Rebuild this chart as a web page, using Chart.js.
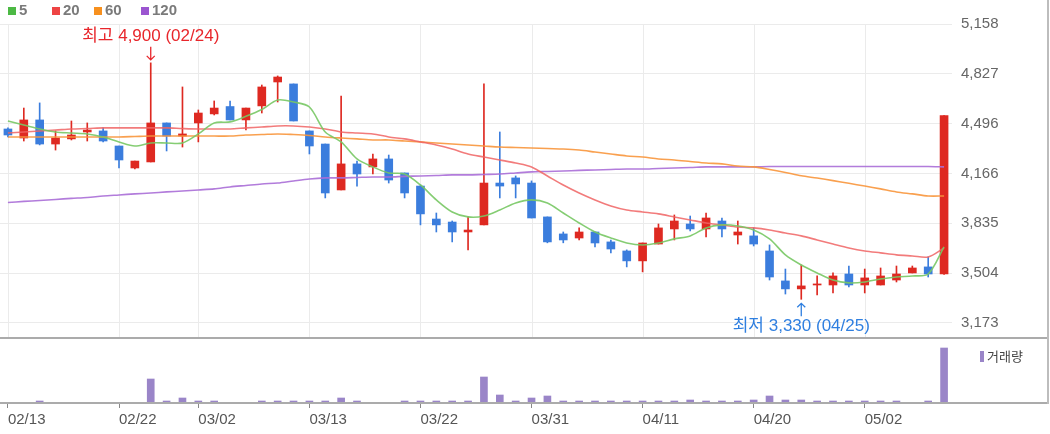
<!DOCTYPE html>
<html>
<head>
<meta charset="utf-8">
<script src="https://cdn.jsdelivr.net/npm/chart.js@4.4.0/dist/chart.umd.min.js"></script>
<style>
  body { margin: 0; background: #fff; }
  #wrap { position: relative; width: 1050px; height: 434px; overflow: hidden; font-family: "Liberation Sans", "Noto Sans CJK KR", sans-serif; }
  #main { position: absolute; left: 0; top: 0; width: 1050px; height: 338px; }
  #vol { position: absolute; left: 0; top: 338px; width: 1050px; height: 96px; }
  .rule { position: absolute; background: #ababab; }
  .lg { position: absolute; top: 2px; font: bold 15px "Liberation Sans", sans-serif; color: #7a7a7a; line-height: 16px; }
  .lg i { display: inline-block; width: 8px; height: 8px; margin-right: 3px; vertical-align: 0px; }
  #volLg { position: absolute; left: 980px; top: 348px; font: 13px "Noto Sans CJK KR", sans-serif; color: #444; line-height: 16px; }
  #volLg i { display: inline-block; width: 4px; height: 11px; background: #9a85c8; margin-right: 3px; vertical-align: -1px; }
</style>
</head>
<body>
<div id="wrap">
  <canvas id="main" width="1050" height="338" style="width:1050px;height:338px"></canvas>
  <canvas id="vol" width="1050" height="96" style="width:1050px;height:96px"></canvas>
  <div class="lg" style="left:8px"><i style="background:#4cb944"></i>5</div>
  <div class="lg" style="left:52px"><i style="background:#ee4444"></i>20</div>
  <div class="lg" style="left:94px"><i style="background:#f7901e"></i>60</div>
  <div class="lg" style="left:141px"><i style="background:#9b55d0"></i>120</div>
  <div id="volLg"><i></i>거래량</div>
  <div class="rule" style="left:0;top:337px;width:1049px;height:2px"></div>
  <div class="rule" style="left:0;top:402px;width:1049px;height:2px"></div>
  <div class="rule" style="left:1047px;top:0;width:2px;height:404px;background:#bdbdbd"></div>
</div>
<script>
// trading days shown on the chart
const dates = ['02/13','02/14','02/15','02/16','02/17','02/20','02/21','02/22','02/23','02/24',
  '02/27','02/28','03/02','03/03','03/06','03/07','03/08','03/09','03/10','03/13',
  '03/14','03/15','03/16','03/17','03/20','03/21','03/22','03/23','03/24','03/27',
  '03/28','03/29','03/30','03/31','04/03','04/04','04/05','04/06','04/07','04/10',
  '04/11','04/12','04/13','04/14','04/17','04/18','04/19','04/20','04/21','04/24',
  '04/25','04/26','04/27','04/28','05/02','05/03','05/04','05/08','05/09','05/10'];
const labelDates = ['02/13','02/22','03/02','03/13','03/22','03/31','04/11','04/20','05/02'];

const opens = [4461,4401,4521,4361,4395,4441,4448,4348,4202,4242,4501,4414,4501,4561,4610,4521,4614,4773,4760,4448,
  4361,4056,4229,4209,4262,4169,4082,3863,3843,3777,3824,4102,4136,4102,3877,3764,3737,3777,3711,3651,
  3585,3697,3797,3830,3797,3850,3757,3751,3651,3452,3399,3425,3425,3498,3425,3425,3458,3505,3545,3498];
const highs = [4468,4600,4634,4448,4514,4501,4468,4348,4248,4900,4501,4740,4587,4647,4647,4600,4753,4813,4760,4448,
  4361,4680,4248,4295,4288,4169,4089,3903,3850,3877,4760,4441,4149,4116,3877,3777,3804,3777,3724,3658,
  3704,3830,3890,3883,3903,3870,3850,3804,3691,3531,3558,3485,3505,3551,3531,3538,3551,3551,3611,4550];
const lows = [4408,4381,4355,4321,4388,4381,4375,4202,4195,4242,4315,4341,4375,4554,4521,4454,4567,4640,4514,4295,
  4003,4056,4082,4162,4102,4003,3824,3777,3711,3658,3824,4003,4003,3870,3705,3705,3724,3678,3638,3545,
  3512,3697,3724,3784,3744,3744,3697,3684,3458,3365,3330,3359,3372,3412,3372,3425,3445,3505,3478,3495];
const closes = [4421,4521,4361,4401,4421,4454,4381,4255,4248,4501,4414,4428,4567,4600,4521,4600,4740,4806,4514,4348,
  4036,4229,4162,4262,4122,4036,3897,3824,3777,3790,4102,4082,4096,3870,3711,3724,3777,3704,3664,3585,
  3704,3804,3850,3797,3870,3797,3777,3697,3478,3399,3419,3432,3485,3425,3472,3485,3498,3538,3498,4550];
const volumes = [3000,3000,20000,3000,3000,3000,3000,3000,3000,240000,20000,50000,20000,20000,5000,5000,20000,20000,20000,20000,
  20000,50000,20000,5000,5000,20000,20000,20000,20000,20000,260000,80000,20000,50000,70000,20000,20000,20000,20000,20000,
  20000,20000,20000,30000,20000,20000,20000,30000,70000,30000,30000,20000,20000,20000,20000,20000,20000,5000,20000,550000];

// moving averages
const ma5 = [4514,4488,4461,4441,4434,4428,4408,4375,4348,4368,4368,4368,4428,4501,4508,4545,4590,4653,4640,4607,
  4441,4375,4262,4209,4169,4162,4089,3990,3910,3877,3883,3923,3970,3990,3970,3903,3837,3777,3737,3704,
  3691,3704,3731,3751,3804,3824,3817,3790,3731,3625,3558,3505,3458,3439,3445,3465,3478,3485,3498,3678];
const ma20 = [4434,4441,4448,4454,4461,4464,4468,4468,4468,4468,4468,4464,4461,4461,4461,4468,4474,4481,4481,4474,
  4461,4441,4434,4428,4408,4395,4375,4355,4328,4295,4275,4255,4235,4209,4149,4089,4036,3990,3950,3923,
  3910,3897,3877,3857,3837,3824,3810,3804,3790,3770,3751,3724,3697,3671,3651,3638,3625,3618,3611,3671];
const ma60 = [4408,4408,4408,4408,4408,4408,4408,4408,4411,4414,4414,4414,4414,4414,4414,4421,4424,4428,4424,4418,
  4408,4401,4395,4388,4388,4381,4375,4368,4361,4355,4348,4341,4338,4335,4331,4328,4321,4308,4295,4282,
  4275,4262,4255,4245,4235,4229,4215,4209,4192,4172,4150,4135,4118,4100,4082,4063,4043,4030,4016,4016];
const ma120 = [3973,3980,3986,3993,4000,4006,4016,4023,4030,4036,4043,4049,4056,4063,4076,4086,4096,4102,4116,4129,
  4136,4136,4139,4142,4142,4146,4149,4152,4156,4156,4159,4162,4169,4176,4179,4182,4186,4189,4192,4195,
  4195,4199,4202,4205,4209,4209,4209,4209,4212,4212,4212,4212,4212,4212,4212,4212,4212,4212,4212,4209];

const yTicks = [5158, 4827, 4496, 4166, 3835, 3504, 3173];

const UP = '#de2921', DOWN = '#3b7ddd';
const candleColors = opens.map((o, i) => closes[i] >= o ? UP : DOWN);
const fmt = v => v.toLocaleString('en-US');
const shown = i => labelDates.includes(dates[i]);

function arrow(ctx, x, from, to) {
  const d = to > from ? 1 : -1;
  ctx.beginPath();
  ctx.moveTo(x, from); ctx.lineTo(x, to);
  ctx.moveTo(x - 4, to - 4 * d); ctx.lineTo(x, to); ctx.lineTo(x + 4, to - 4 * d);
  ctx.stroke();
}

// vertical grid only at the labelled dates
const dateGrid = {
  id: 'dateGrid',
  beforeDatasetsDraw(chart) {
    const { ctx, chartArea: a, scales: { x } } = chart;
    ctx.save();
    ctx.strokeStyle = '#ebebeb';
    ctx.lineWidth = 1;
    dates.forEach((d, i) => {
      if (!shown(i)) return;
      const px = Math.round(x.getPixelForValue(i)) + 0.5;
      ctx.beginPath(); ctx.moveTo(px, a.top); ctx.lineTo(px, a.bottom); ctx.stroke();
    });
    ctx.restore();
  }
};

// high / low call-outs
const markers = {
  id: 'markers',
  afterDatasetsDraw(chart) {
    const { ctx, scales: { x, y } } = chart;
    const hi = highs.indexOf(Math.max(...highs));
    const lo = lows.indexOf(Math.min(...lows));
    ctx.save();
    ctx.font = '17px "Liberation Sans", "Noto Sans CJK KR", sans-serif';
    ctx.textAlign = 'center';
    ctx.textBaseline = 'middle';
    ctx.lineWidth = 1.3;

    let px = x.getPixelForValue(hi), py = y.getPixelForValue(highs[hi]);
    ctx.fillStyle = ctx.strokeStyle = '#e8262b';
    ctx.fillText('최고 ' + fmt(highs[hi]) + ' (' + dates[hi] + ')', px, py - 27);
    arrow(ctx, px, py - 16, py - 3);

    px = x.getPixelForValue(lo); py = y.getPixelForValue(lows[lo]);
    ctx.fillStyle = ctx.strokeStyle = '#2f7fe0';
    ctx.fillText('최저 ' + fmt(lows[lo]) + ' (' + dates[lo] + ')', px, py + 27);
    arrow(ctx, px, py + 17, py + 4);
    ctx.restore();
  }
};

const maLine = (data, color) => ({
  type: 'line', data, borderColor: color, borderWidth: 1.6,
  pointRadius: 0, tension: 0.3, order: 1
});

new Chart(document.getElementById('main'), {
  type: 'bar',
  data: {
    labels: dates,
    datasets: [
      { data: lows.map((l, i) => [l, highs[i]]), backgroundColor: candleColors, barThickness: 1, grouped: false, order: 3 },
      { data: opens.map((o, i) => [o, closes[i]]), backgroundColor: candleColors, barThickness: 8, grouped: false, order: 2 },
      maLine(ma5, 'rgba(120,200,100,0.9)'),
      maLine(ma20, 'rgba(240,100,100,0.85)'),
      maLine(ma60, 'rgba(248,150,60,0.9)'),
      maLine(ma120, 'rgba(170,110,215,0.9)')
    ]
  },
  options: {
    responsive: false,
    animation: false,
    layout: { padding: { top: 24, bottom: 0, left: 0, right: 0 } },
    plugins: { legend: { display: false }, tooltip: { enabled: false } },
    scales: {
      x: { display: false, offset: true },
      y: {
        position: 'right',
        min: 3073, max: 5158,
        afterBuildTicks: s => { s.ticks = yTicks.map(v => ({ value: v })); },
        // fixed axis width, and no extra label padding eating into the plot height
        afterFit: s => { s.width = 98; s.paddingTop = 0; s.paddingBottom = 0; },
        border: { display: false },
        grid: { drawTicks: false, color: '#ebebeb' },
        ticks: { padding: 9, color: '#666', font: { family: '"Liberation Sans", sans-serif', size: 15 }, callback: v => fmt(v) }
      }
    }
  },
  plugins: [dateGrid, markers]
});

new Chart(document.getElementById('vol'), {
  type: 'bar',
  data: {
    labels: dates,
    datasets: [{ data: volumes, backgroundColor: '#9a85c8', barThickness: 7 }]
  },
  options: {
    responsive: false,
    animation: false,
    layout: { padding: { top: 1, right: 98, left: 0, bottom: 0 } },
    plugins: { legend: { display: false }, tooltip: { enabled: false } },
    scales: {
      x: {
        offset: true,
        border: { display: false },
        grid: { offset: false, drawOnChartArea: false, tickLength: 5, color: c => shown(c.index) ? '#888' : 'rgba(0,0,0,0)' },
        ticks: {
          autoSkip: false, maxRotation: 0, align: 'start', padding: 3,
          color: '#555', font: { family: '"Liberation Sans", sans-serif', size: 15 },
          callback: (v, i) => shown(i) ? dates[i] : ''
        },
        afterFit: s => { s.height = 31; }
      },
      y: { display: false, min: 0, max: 640000 }
    }
  }
});
</script>
</body>
</html>
